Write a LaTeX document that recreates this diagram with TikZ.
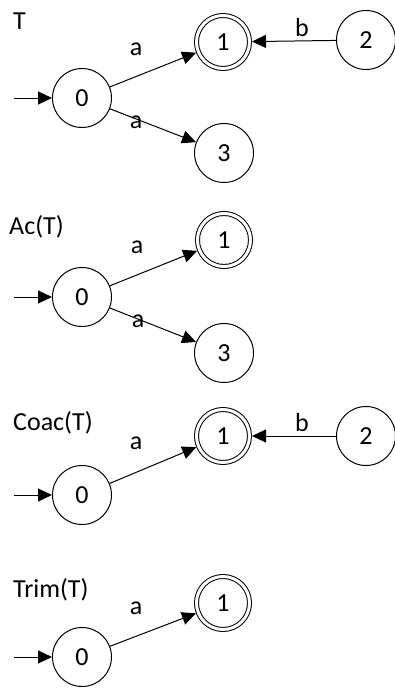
\documentclass[tikz,border=0pt]{standalone}
\usepackage{fontspec}
\setmainfont{Carlito}
\usetikzlibrary{arrows.meta}
\begin{document}
\begin{tikzpicture}[x=1pt,y=-1pt,
  every node/.style={font=\fontsize{26}{30}\selectfont},
  state/.style={circle,draw,line width=1pt,minimum size=59pt,inner sep=0pt},
  accept/.style={circle,draw,line width=1pt,double,double distance=3pt,minimum size=53pt,inner sep=0pt,outer sep=2.5pt},
  edge/.style={line width=1pt,-{Triangle[length=14pt,width=13pt]}},
  lbl/.style={inner sep=0pt},
  title/.style={anchor=west,inner sep=0pt}]
\useasboundingbox (0,0) rectangle (395,688);
% T
\node[title] (tT) at (13,21) {T};
\node[state] (a0) at (82,98) {0};
\node[accept] (a1) at (223,42) {1};
\node[state] (a2) at (366,40) {2};
\node[state] (a3) at (224,153) {3};
\coordinate (as) at (14,98);
\draw[edge] (as) -- (a0);
\draw[edge] (a0) -- (a1);
\draw[edge] (a0) -- (a3);
\draw[edge] (a2) -- (a1);
\node[lbl] (la1) at (136,49) {a};
\node[lbl] (la3) at (136,122) {a};
\node[lbl] (lb) at (302,28) {b};
% Ac(T)
\node[title] (tAc) at (9,227) {Ac(T)};
\node[state] (b0) at (82,297) {0};
\node[accept] (b1) at (224,240) {1};
\node[state] (b3) at (224,353) {3};
\coordinate (bs) at (14,297);
\draw[edge] (bs) -- (b0);
\draw[edge] (b0) -- (b1);
\draw[edge] (b0) -- (b3);
\node[lbl] (lb1) at (137,247) {a};
\node[lbl] (lb3) at (138,321) {a};
% Coac(T)
\node[title] (tCo) at (13,423) {Coac(T)};
\node[state] (c0) at (82,495) {0};
\node[accept] (c1) at (223,436) {1};
\node[state] (c2) at (366,436) {2};
\coordinate (cs) at (14,495);
\draw[edge] (cs) -- (c0);
\draw[edge] (c0) -- (c1);
\draw[edge] (c2) -- (c1);
\node[lbl] (lc1) at (136,443) {a};
\node[lbl] (lc2) at (302,423) {b};
% Trim(T)
\node[title] (tTr) at (13,590) {Trim(T)};
\node[state] (d0) at (82,657) {0};
\node[accept] (d1) at (223,603) {1};
\coordinate (ds) at (14,657);
\draw[edge] (ds) -- (d0);
\draw[edge] (d0) -- (d1);
\node[lbl] (ld1) at (136,608) {a};
\end{tikzpicture}
\end{document}
